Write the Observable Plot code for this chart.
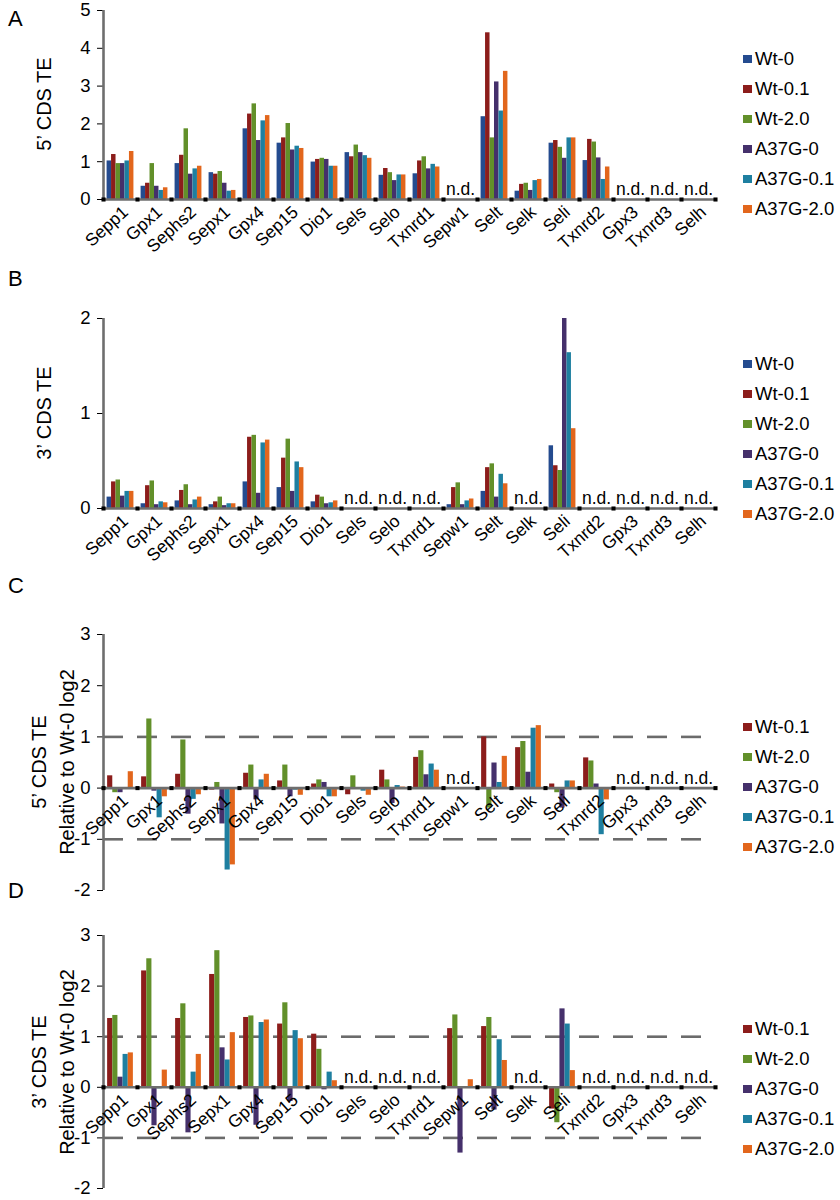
<!DOCTYPE html>
<html><head><meta charset="utf-8">
<script src="https://cdn.jsdelivr.net/npm/d3@7"></script>
<script src="https://cdn.jsdelivr.net/npm/@observablehq/plot@0.6"></script>
<style>
body{margin:0;background:#fff;font-family:"Liberation Sans",Arial,Helvetica,sans-serif;color:#000}
#wrap{position:relative;width:840px;height:1200px;overflow:hidden;background:#fff}
.panel{position:absolute;left:0}
.letter{position:absolute;font-size:22px;line-height:1}
.ytitle{position:absolute;white-space:nowrap;font-size:20px;line-height:1;transform:translate(-50%,-50%) rotate(-90deg)}
.legend{position:absolute;left:743px;font-size:18.5px;line-height:1}
.legend .row{position:absolute;left:0;white-space:nowrap;display:flex;align-items:center}
.legend .sw{width:9px;height:8px;margin-right:3px}
svg [aria-label="y-axis tick"]{stroke:#7a7a7a}
</style></head>
<body><div id="wrap"></div>
<script>
const genes = ["Sepp1","Gpx1","Sephs2","Sepx1","Gpx4","Sep15","Dio1","Sels","Selo","Txnrd1","Sepw1","Selt","Selk","Seli","Txnrd2","Gpx3","Txnrd3","Selh"];
const seriesAll = ["Wt-0","Wt-0.1","Wt-2.0","A37G-0","A37G-0.1","A37G-2.0"];
const seriesRel = ["Wt-0.1","Wt-2.0","A37G-0","A37G-0.1","A37G-2.0"];
const seriesColors = ["#244b8f","#8c1d1b","#62902a","#45306b","#1e7fa0","#e2661c"];

// Panel A: 5' CDS TE (null = n.d.)
const te5 = [
  [1.02,1.19,0.95,0.95,1.02,1.27],
  [0.35,0.43,0.95,0.35,0.24,0.31],
  [0.95,1.17,1.87,0.67,0.81,0.88],
  [0.71,0.67,0.74,0.43,0.22,0.24],
  [1.87,2.26,2.53,1.56,2.08,2.22],
  [1.49,1.63,2.01,1.31,1.41,1.35],
  [0.99,1.06,1.09,1.06,0.88,0.88],
  [1.24,1.13,1.44,1.24,1.16,1.09],
  [0.64,0.82,0.71,0.50,0.65,0.65],
  [0.68,1.02,1.13,0.81,0.93,0.86],
  null,
  [2.19,4.41,1.63,3.11,2.34,3.39],
  [0.22,0.40,0.43,0.24,0.50,0.53],
  [1.49,1.56,1.38,1.09,1.63,1.63],
  [1.03,1.59,1.52,1.10,0.53,0.86],
  null, null, null
];
// Panel B: 3' CDS TE
const te3 = [
  [0.12,0.28,0.30,0.13,0.18,0.18],
  [0.05,0.24,0.29,0.04,0.07,0.06],
  [0.08,0.19,0.25,0.04,0.09,0.12],
  [0.04,0.07,0.12,0.03,0.05,0.05],
  [0.28,0.75,0.77,0.16,0.69,0.72],
  [0.22,0.53,0.73,0.18,0.49,0.43],
  [0.07,0.14,0.12,0.05,0.06,0.08],
  null, null, null,
  [0.04,0.22,0.27,0.04,0.08,0.10],
  [0.18,0.43,0.47,0.12,0.36,0.26],
  null,
  [0.66,0.45,0.40,2.00,1.64,0.84],
  null, null, null, null
];
// Panel C: 5' CDS TE relative to Wt-0, log2
const rel5 = [
  [0.24,-0.09,-0.09,-0.02,0.32],
  [0.22,1.35,-0.06,-0.58,-0.17],
  [0.27,0.94,-0.51,-0.22,-0.13],
  [-0.04,0.11,-0.70,-1.60,-1.50],
  [0.29,0.45,-0.23,0.16,0.27],
  [0.14,0.45,-0.17,-0.04,-0.14],
  [0.08,0.16,0.11,-0.17,-0.17],
  [-0.13,0.24,-0.02,-0.06,-0.14],
  [0.35,0.16,-0.30,0.05,0.02],
  [0.60,0.73,0.26,0.47,0.35],
  null,
  [1.00,-0.39,0.49,0.11,0.62],
  [0.79,0.91,0.31,1.17,1.22],
  [0.08,-0.09,-0.39,0.14,0.14],
  [0.59,0.53,0.08,-0.91,-0.23],
  null, null, null
];
// Panel D: 3' CDS TE relative to Wt-0, log2
const rel3 = [
  [1.36,1.42,0.20,0.65,0.68],
  [2.30,2.54,-0.76,-0.03,0.34],
  [1.36,1.65,-0.90,0.30,0.65],
  [2.23,2.70,0.78,0.54,1.08],
  [1.38,1.41,-0.75,1.28,1.33],
  [1.25,1.67,-0.28,1.12,0.96],
  [1.05,0.75,-0.05,0.30,0.13],
  null, null, null,
  [1.16,1.43,-1.30,0.00,0.15],
  [1.20,1.38,-0.45,0.94,0.53],
  null,
  [-0.43,-0.70,1.55,1.25,0.33],
  null, null, null, null
];
const ticksA = [0,1,2,3,4,5];
const ticksB = [0,1,2];
const ticksRel = [-2,-1,0,1,2,3];
const dashedLevels = [1,-1];

const wrap = document.getElementById("wrap");
const GAP = 0.8; // Excel-like outer gap (in bar widths)

function make(opts, yTopPx, yBottomPx, svgTop, svgBottom) {
  const height = svgBottom - svgTop;
  const marginTop = yTopPx - svgTop;
  const marginBottom = svgBottom - yBottomPx;
  const colors = opts.series.map(s => seriesColors[seriesAll.indexOf(s)]);
  const n = opts.series.length;
  const rows = [];
  genes.forEach((g, gi) => {
    const v = opts.values[gi];
    if (!v) return;
    v.forEach((val, si) => rows.push({gene: g, si, series: opts.series[si], value: val}));
  });
  const nd = genes.filter((g, gi) => !opts.values[gi]);
  const xmax = n + 2 * GAP;
  const marks = [];
  if (opts.dashed) marks.push(Plot.ruleY(dashedLevels, {stroke: "#6b6b6b", strokeWidth: 2.6, strokeDasharray: "20,14.2"}));
  marks.push(
    Plot.rect(rows, {fx: "gene", x1: d => d.si + GAP, x2: d => d.si + GAP + 1, y1: () => 0, y2: "value", fill: "series"}),
    Plot.ruleY([0], {stroke: "#6e6e6e", strokeWidth: 2.6}),
    Plot.ruleX([genes[0]], {fx: d => d, x: () => 0, y1: () => opts.yDomain[0], y2: () => opts.yDomain[1], stroke: "#6e6e6e", strokeWidth: 2.6}),
    Plot.dot(genes, {fx: d => d, x: () => 0, y: () => 0, symbol: "square", r: 2.3, fill: "#000"}),
    Plot.dot([genes[genes.length - 1]], {fx: d => d, x: () => xmax, y: () => 0, symbol: "square", r: 2.3, fill: "#000"}),
    Plot.text(nd, {fx: d => d, x: () => xmax / 2, y: () => 0, text: () => "n.d.", dy: -10, fontSize: 17.5, fill: "#000"}),
    Plot.text(genes, {fx: d => d, x: () => xmax / 2, y: () => 0, text: d => d, rotate: -42, textAnchor: "end", dx: 5, dy: 10, fontSize: 17.5, fill: "#000"})
  );
  const svg = Plot.plot({
    width: 840, height, marginLeft: 101, marginRight: 123, marginTop, marginBottom,
    style: {fontFamily: "'Liberation Sans', Arial, sans-serif", fontSize: "18.5px", background: "transparent", overflow: "visible"},
    fx: {domain: genes, padding: 0, axis: null, label: null},
    x: {domain: [0, xmax], axis: null},
    y: {domain: opts.yDomain, ticks: opts.yTicks, tickSize: 6, tickPadding: 7, tickFormat: d => String(d), label: null, axis: "left"},
    color: {domain: opts.series, range: colors},
    marks
  });
  svg.classList.add("panel");
  svg.style.top = svgTop + "px";
  wrap.appendChild(svg);
}

function legend(series, top) {
  const div = document.createElement("div");
  div.className = "legend";
  div.style.top = top + "px";
  series.forEach((s, i) => {
    const r = document.createElement("div");
    r.className = "row";
    r.style.top = (i * 30) + "px";
    r.innerHTML = `<span class="sw" style="background:${seriesColors[seriesAll.indexOf(s)]}"></span><span>${s}</span>`;
    div.appendChild(r);
  });
  wrap.appendChild(div);
}
function addText(cls, text, left, top) {
  const d = document.createElement("div");
  d.className = cls; d.textContent = text;
  d.style.left = left + "px"; d.style.top = top + "px";
  wrap.appendChild(d);
}

make({values: te5, series: seriesAll, yDomain: [0, 5], yTicks: ticksA}, 10, 199, 0, 262);
make({values: te3, series: seriesAll, yDomain: [0, 2], yTicks: ticksB}, 318, 508, 262, 572);
make({values: rel5, series: seriesRel, yDomain: [-2, 3], yTicks: ticksRel, dashed: true}, 634, 890, 572, 900);
make({values: rel3, series: seriesRel, yDomain: [-2, 3], yTicks: ticksRel, dashed: true}, 935, 1188, 900, 1200);

addText("letter", "A", 8, 8);
addText("letter", "B", 8, 268);
addText("letter", "C", 8, 575);
addText("letter", "D", 8, 880);
addText("ytitle", "5’ CDS TE", 44, 104);
addText("ytitle", "3’ CDS TE", 44, 413);
addText("ytitle", "5’ CDS TE", 39, 762);
addText("ytitle", "Relative to Wt-0 log2", 67, 762);
addText("ytitle", "3’ CDS TE", 39, 1062);
addText("ytitle", "Relative to Wt-0 log2", 67, 1062);

legend(seriesAll, 50);
legend(seriesAll, 355);
legend(seriesRel, 718);
legend(seriesRel, 1020);
</script></body></html>
